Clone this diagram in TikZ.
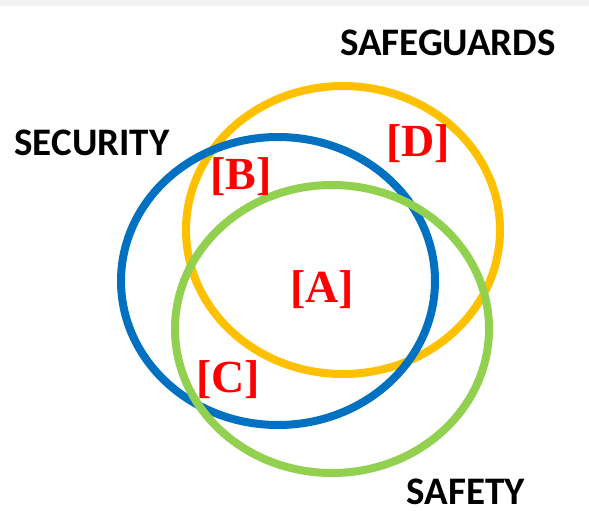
\documentclass[tikz,border=0pt]{standalone}
\usepackage{fontspec}
\usepackage{tikz}
\newfontfamily\capfont{Carlito}
\newfontfamily\tagfont{Liberation Serif}
\definecolor{ringblue}{HTML}{0070C0}
\definecolor{ringgold}{HTML}{FFC000}
\definecolor{ringgreen}{HTML}{92D050}
\definecolor{tagred}{HTML}{FF0000}
\definecolor{barfill}{HTML}{F2F2F2}

\begin{document}
\begin{tikzpicture}[x=1pt,y=-1pt,
   ring/.style={line width=8pt,#1},
   caption/.style={anchor=base,inner sep=0pt,text depth=0pt,font=\capfont\bfseries\fontsize{39}{39}\selectfont},
   tag/.style={inner sep=0pt,text=tagred,font=\tagfont\bfseries\fontsize{46}{46}\selectfont}]
\useasboundingbox (0,0) rectangle (589,511);
\fill[barfill] (0,0) rectangle (589,6);
% the three rings, drawn gold, blue, green
\foreach \c/\x/\y in %
{ringgold/343/230,ringblue/278/281,ringgreen/332/329} {
   \draw[ring=\c] (\x,\y) ellipse [x radius=157pt,y radius=144pt];
}
\node[caption] (safeguards) at (448,56) {SAFEGUARDS};
\node[caption] (security) at (92,155) {SECURITY};
\node[caption] (safety) at (466,504) {SAFETY};
\foreach \n/\x/\y in %
{A/322/290,B/241/177,C/228/380,D/418/144} {
   \node[tag] (tag\n) at (\x,\y) {[\n]};
}
\end{tikzpicture}
\end{document}
